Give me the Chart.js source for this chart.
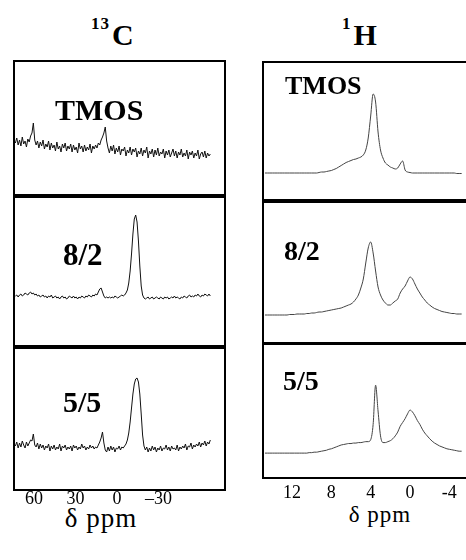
<!DOCTYPE html>
<html>
<head>
<meta charset="utf-8">
<script src="https://cdn.jsdelivr.net/npm/chart.js@4.4.0/dist/chart.umd.min.js"></script>
<style>
  html, body { margin: 0; padding: 0; background: #fff; overflow: hidden; }
  body { width: 466px; height: 560px; position: relative; font-family: "Liberation Serif", Tinos, "Times New Roman", serif; color: #000; }
  canvas { position: absolute; }
  .lbl { position: absolute; font-weight: bold; line-height: 1; white-space: nowrap; z-index: 2; }
  .sup { font-size: 17px; position: relative; top: -16px; letter-spacing: 1px; margin-right: 2px; }
  .axt { position: absolute; line-height: 1; width: 110px; text-align: center; white-space: nowrap; letter-spacing: 1px; }
</style>
</head>
<body>
<div class="lbl" style="left:91px;top:20px;font-size:30px"><span class="sup">13</span>C</div>
<div class="lbl" style="left:342px;top:20px;font-size:30px"><span class="sup">1</span>H</div>

<div class="lbl" style="left:55px;top:95px;font-size:30px">TMOS</div>
<div class="lbl" style="left:63px;top:239px;font-size:31px">8/2</div>
<div class="lbl" style="left:63px;top:387px;font-size:30px">5/5</div>

<div class="lbl" style="left:285px;top:73px;font-size:26px">TMOS</div>
<div class="lbl" style="left:284px;top:237px;font-size:28px">8/2</div>
<div class="lbl" style="left:283px;top:367px;font-size:28px">5/5</div>

<div class="axt" style="left:46px;top:505px;font-size:27px">δ ppm</div>
<div class="axt" style="left:325px;top:503px;font-size:23px">δ ppm</div>

<script>
// 13C spectra: sampled every 1 ppm from 73.5 ppm, height above panel floor
const cPpmStart = 73.5, cPpmStep = -1;
const cTmos = [52,57,50,55,49,58,51,54,48,56, 53,59,62,72,55,50,54,47,53,49,
  55,46,51,48,54,45,52,47,50,44, 53,46,49,43,51,47,52,44,49,46,
  51,43,50,45,48,42,52,46,49,43, 50,44,48,45,51,42,49,46,50,47,
  52,50,55,58,62,68,54,47,42,49, 44,50,41,47,43,49,40,46,44,48,
  39,45,42,48,40,46,43,47,38,44, 41,47,39,45,42,48,37,44,41,46,
  38,45,40,47,39,43,41,46,37,44, 40,45,38,42,46,39,44,37,43,40,
  46,38,42,39,45,36,43,40,44,37, 42,39,45,36,41,43,38,44,37,42,
  39,41];
const c82 = [50,51,49,51,52,50,51,53,52,51, 53,54,52,53,51,52,50,51,49,50,
  51,49,50,48,50,49,51,48,49,50, 48,49,47,49,50,48,49,47,48,50,
  49,48,50,48,49,47,49,48,50,49, 48,50,49,51,50,49,51,50,52,51,
  54,57,58,54,50,48,49,48,49,48, 49,48,50,49,48,49,50,51,50,51,
  53,56,63,75,92,112,127,131,124,105, 80,60,51,48,47,48,49,47,48,49,
  47,48,49,48,47,49,48,47,49,48, 49,47,48,49,48,50,48,49,48,47,
  49,48,50,49,48,50,51,49,50,49, 51,50,52,50,49,51,50,52,51,50,
  52,50];
const c55 = [44,48,42,47,43,49,45,42,48,44, 47,50,49,56,45,43,47,41,46,42,
  45,40,44,42,46,39,44,41,45,40, 43,41,46,39,44,42,45,40,43,41,
  44,39,45,42,44,40,43,41,46,42, 44,40,43,41,45,42,44,41,43,42,
  45,48,52,58,47,40,38,43,39,44, 40,43,38,42,41,44,40,43,42,44,
  46,50,57,68,82,96,106,111,112,108, 96,76,55,44,40,43,38,42,39,44,
  40,43,38,42,40,44,39,42,41,45, 40,43,39,44,41,42,40,45,39,43,
  41,44,42,46,40,44,43,47,41,45, 43,46,44,48,43,47,45,49,44,48,
  46,50];

// 1H spectra: sampled every 0.25 ppm from 14.75 ppm
const hPpmStart = 14.75, hPpmStep = -0.25;
const hTmos = [27,27,27,27,27,27,27,27,27,27, 27,27,27,27,27,27,27,27,27,27,
  27,27,27.5,28,28,28.5,29,29.5,30.5,31.5, 33,34.5,36,37.5,38.5,39.5,40.5,41,42,43,
  45,50,62,84,106,98,68,50,42,37, 35,33,32,31,32,36,39,30,28,27.5,
  27,27,27,27,27,27,27,27,27,27, 27,27,27,27,27,27,27,27,26.5,26.5, 26.5];
const h82 = [28,28,28,28,28,28,28,28,28,28, 28.5,28.5,28.5,29,29,29,29,29.5,29.5,30,
  30,30.5,31,31,31.5,32,32.5,33,33.5,34, 34.5,35,36,37,38,39,41,44,48,55,
  64,80,95,101,90,72,56,48,43,40, 38,38,40,42,44,50,54,57,62,66,
  64,59,54,50,46,43,40,38,36,34.5, 33.5,32.5,31.5,31,30.5,30,29.5,29.5,29,29, 29];
const h55 = [26,26,26,26,26,26,26,26,26,26, 26,26,26,26,26,26,26,26,26.5,26.5,
  27,27,27.5,28,28.5,29,30,30.5,31.5,32.5, 33.5,34.5,35,35.5,36,36,36.5,36.5,37,37,
  37.5,38,38,40,56,97,70,44,37,37, 38,39,41,44,48,54,58,62,67,71,
  69,65,60,56,51,47,44,41,38.5,36.5, 35,33.5,32.5,31.5,30.5,30,29.5,29,28.5,28, 28];

const cTicks = [60, 30, 0, -30];
const cTickLabels = ['60', '30', '0', '–30'];
const hTicks = [12, 8, 4, 0, -4];
const hTickLabels = ['12', '8', '4', '0', '-4'];

const FONT = '"Liberation Serif", Tinos, "Times New Roman", serif';

function toPoints(start, step, vals) {
  return vals.map((v, i) => ({ x: start + step * i, y: v }));
}

const framePlugin = {
  id: 'frame',
  afterDatasetsDraw(chart) {
    const a = chart.chartArea, ctx = chart.ctx;
    ctx.save();
    ctx.strokeStyle = '#000';
    ctx.lineWidth = 2;
    ctx.strokeRect(a.left, a.top, a.right - a.left, a.bottom - a.top);
    ctx.restore();
  }
};

const carbon = { start: cPpmStart, step: cPpmStep, min: -78.1, max: 74.5, ticks: cTicks, labels: cTickLabels,
  color: '#111', mono: false, tickPad: 0 };
const proton = { start: hPpmStart, step: hPpmStep, min: -6.1, max: 14.95, ticks: hTicks, labels: hTickLabels,
  color: '#444', mono: true, tickPad: 6 };

// [left, top, right, bottom] of each frame
const panels = [
  { vals: cTmos, kind: carbon, box: [14, 61, 225, 195] },
  { vals: c82, kind: carbon, box: [14, 197, 225, 346] },
  { vals: c55, kind: carbon, box: [14, 348, 225, 490], axis: true },
  { vals: hTmos, kind: proton, box: [263, 62, 470, 200] },
  { vals: h82, kind: proton, box: [263, 202, 470, 343] },
  { vals: h55, kind: proton, box: [263, 344, 470, 484], axis: true }
];

function build() {
  const pad = 3;
  panels.forEach((p) => {
    const k = p.kind;
    const [l, t, r, b] = p.box;
    const w = r - l, h = b - t;
    const axisH = p.axis ? 18 + k.tickPad : 0;
    const cv = document.createElement('canvas');
    cv.width = w + 2 * pad;
    cv.height = h + 2 * pad + axisH;
    cv.style.left = (l - pad) + 'px';
    cv.style.top = (t - pad) + 'px';
    cv.style.width = cv.width + 'px';
    cv.style.height = cv.height + 'px';
    document.body.appendChild(cv);

    new Chart(cv, {
      type: 'line',
      data: {
        datasets: [{
          data: toPoints(k.start, k.step, p.vals),
          borderColor: k.color,
          borderWidth: 1,
          pointRadius: 0,
          tension: 0,
          cubicInterpolationMode: k.mono ? 'monotone' : 'default',
          fill: false
        }]
      },
      options: {
        responsive: false,
        animation: false,
        events: [],
        layout: { padding: pad },
        plugins: { legend: { display: false }, tooltip: { enabled: false } },
        scales: {
          x: {
            type: 'linear',
            reverse: true,
            min: k.min,
            max: k.max,
            display: !!p.axis,
            grid: { display: false, drawTicks: false },
            border: { display: false },
            afterBuildTicks: (s) => { s.ticks = k.ticks.map(v => ({ value: v })); },
            ticks: {
              padding: k.tickPad,
              color: '#000',
              maxRotation: 0,
              autoSkip: false,
              font: { family: FONT, size: 18, lineHeight: 1 },
              callback: (v, i) => k.labels[i]
            }
          },
          y: { display: false, min: 0, max: h }
        }
      },
      plugins: [framePlugin]
    });
  });
}

window.onload = function() {
  if (document.fonts && document.fonts.load) {
    Promise.all([
      document.fonts.load('18px "Liberation Serif"'),
      document.fonts.load('bold 30px "Liberation Serif"')
    ]).then(build, build);
  } else {
    build();
  }
};
</script>
</body>
</html>
